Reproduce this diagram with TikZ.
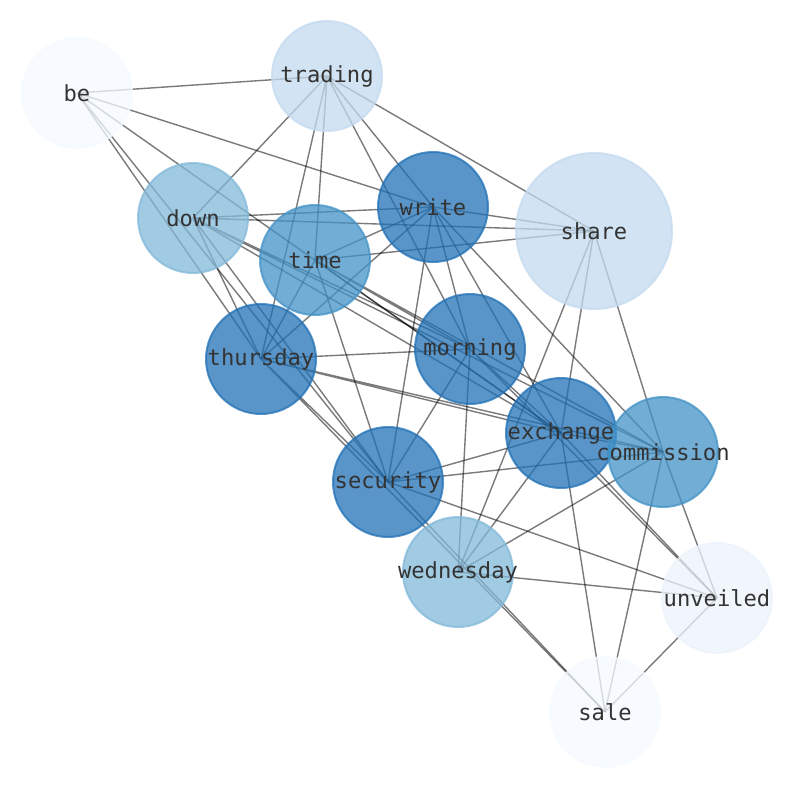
\documentclass[tikz,border=0pt]{standalone}
\usepackage{fontspec}
\setmonofont{DejaVu Sans Mono}
\usetikzlibrary{backgrounds}

\definecolor{blueA}{RGB}{33,113,181}
\definecolor{blueB}{RGB}{66,146,198}
\definecolor{blueC}{RGB}{130,185,217}
\definecolor{blueD}{RGB}{195,218,239}
\definecolor{blueE}{RGB}{235,243,251}
\definecolor{blueF}{RGB}{244,250,255}

\begin{document}
\begin{tikzpicture}[
        x=1bp, y=-1bp,
        word/.style={circle, draw=#1, fill=#1, line width=2bp, fill opacity=0.75, draw opacity=0.75,
            minimum size=110bp, inner sep=0pt},
        word_label/.style={text=black!80, inner sep=0pt, font=\ttfamily\fontsize{22.2}{24}\selectfont},
        link/.style={draw=black, draw opacity=0.52, line width=1.4bp}
    ]
        \useasboundingbox (0,0) rectangle (794,790);

        % words
        \node[word=blueF] (be) at (77,93) {};
        \node[word=blueD] (trading) at (327,76) {};
        \node[word=blueC] (down) at (193,218) {};
        \node[word=blueB] (time) at (315,260) {};
        \node[word=blueA] (write) at (433,207) {};
        \node[word=blueD, minimum size=156bp] (share) at (594,231) {};
        \node[word=blueA] (thursday) at (261,359) {};
        \node[word=blueA] (morning) at (470,349) {};
        \node[word=blueA] (exchange) at (561,433) {};
        \node[word=blueB] (commission) at (663,452) {};
        \node[word=blueA] (security) at (388,482) {};
        \node[word=blueC] (wednesday) at (458,572) {};
        \node[word=blueE] (unveiled) at (717,598) {};
        \node[word=blueF] (sale) at (605,712) {};

        % links, behind the words
        \begin{scope}[on background layer]
        \path[link] (be.center) -- (trading.center) (be.center) -- (write.center)
            (be.center) -- (thursday.center) (be.center) -- (security.center)
            (be.center) -- (exchange.center);
        \path[link] (trading.center) -- (down.center) (trading.center) -- (time.center)
            (trading.center) -- (thursday.center) (trading.center) -- (morning.center)
            (trading.center) -- (write.center) (trading.center) -- (share.center);
        \path[link] (down.center) -- (write.center) (down.center) -- (share.center)
            (down.center) -- (thursday.center) (down.center) -- (security.center)
            (down.center) -- (morning.center) (down.center) -- (exchange.center)
            (down.center) -- (commission.center);
        \path[link] (time.center) -- (write.center) (time.center) -- (share.center)
            (time.center) -- (thursday.center) (time.center) -- (security.center)
            (time.center) -- (morning.center) (time.center) -- (exchange.center)
            (time.center) -- (commission.center);
        \path[link] (write.center) -- (share.center) (write.center) -- (thursday.center)
            (write.center) -- (morning.center) (write.center) -- (exchange.center)
            (write.center) -- (commission.center) (write.center) -- (security.center);
        \path[link] (share.center) -- (exchange.center) (share.center) -- (wednesday.center)
            (share.center) -- (commission.center);
        \path[link] (thursday.center) -- (morning.center) (thursday.center) -- (exchange.center)
            (thursday.center) -- (commission.center) (thursday.center) -- (security.center)
            (thursday.center) -- (sale.center);
        \path[link] (morning.center) -- (exchange.center) (morning.center) -- (security.center)
            (morning.center) -- (wednesday.center) (morning.center) -- (unveiled.center);
        \path[link] (exchange.center) -- (security.center) (exchange.center) -- (wednesday.center)
            (exchange.center) -- (commission.center) (exchange.center) -- (sale.center)
            (exchange.center) -- (unveiled.center);
        \path[link] (commission.center) -- (security.center) (commission.center) -- (wednesday.center)
            (commission.center) -- (sale.center) (commission.center) -- (unveiled.center);
        \path[link] (security.center) -- (unveiled.center) (security.center) -- (sale.center)
            (wednesday.center) -- (unveiled.center) (unveiled.center) -- (sale.center);
        \end{scope}

        % Labels, on top of every circle
        \node[word_label] (be_label) at (be) {be};
        \node[word_label] (trading_label) at (trading) {trading};
        \node[word_label] (down_label) at (down) {down};
        \node[word_label] (time_label) at (time) {time};
        \node[word_label] (write_label) at (write) {write};
        \node[word_label] (share_label) at (share) {share};
        \node[word_label] (thursday_label) at (thursday) {thursday};
        \node[word_label] (morning_label) at (morning) {morning};
        \node[word_label] (exchange_label) at (exchange) {exchange};
        \node[word_label] (commission_label) at (commission) {commission};
        \node[word_label] (security_label) at (security) {security};
        \node[word_label] (wednesday_label) at (wednesday) {wednesday};
        \node[word_label] (unveiled_label) at (unveiled) {unveiled};
        \node[word_label] (sale_label) at (sale) {sale};

    \end{tikzpicture}
\end{document}
